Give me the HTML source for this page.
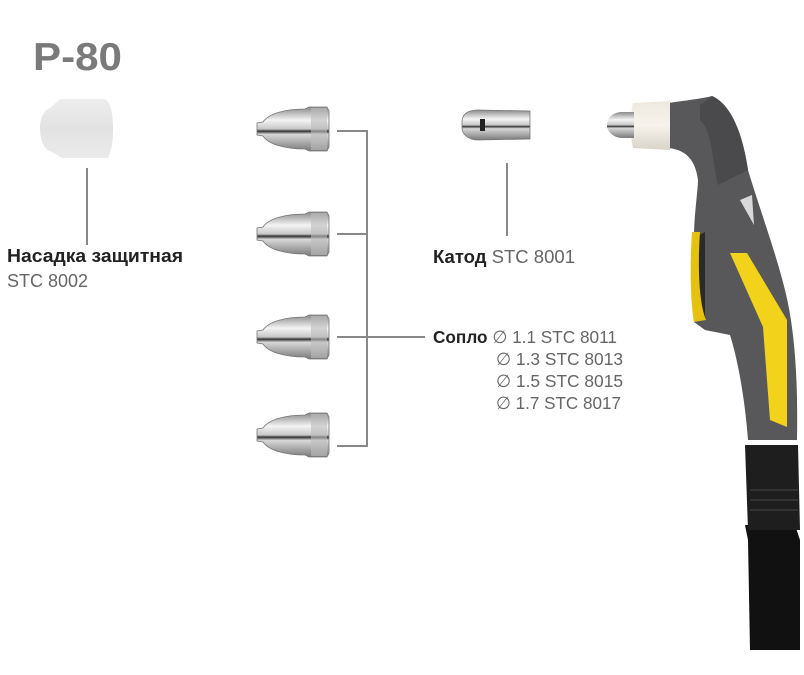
<!DOCTYPE html>
<html><head><meta charset="utf-8"><style>
html,body{margin:0;padding:0;background:#fff;}
svg{display:block}
text{font-family:"Liberation Sans","DejaVu Sans",sans-serif;}
</style></head><body>
<svg width="804" height="675" viewBox="0 0 804 675" xmlns="http://www.w3.org/2000/svg">
<defs>
<linearGradient id="met" x1="0" y1="0" x2="0" y2="1">
<stop offset="0" stop-color="#8a8a8a"/><stop offset="0.3" stop-color="#f4f4f4"/><stop offset="0.5" stop-color="#c8c8c8"/><stop offset="0.55" stop-color="#333"/><stop offset="0.62" stop-color="#d8d8d8"/><stop offset="1" stop-color="#7a7a7a"/>
</linearGradient>
<linearGradient id="cup" x1="0" y1="0" x2="0" y2="1">
<stop offset="0" stop-color="#eeeeee"/><stop offset="0.5" stop-color="#e2e2e2"/><stop offset="1" stop-color="#ebebeb"/>
</linearGradient>
<linearGradient id="wc" x1="0" y1="0" x2="0" y2="1">
<stop offset="0" stop-color="#eee9df"/><stop offset="0.5" stop-color="#f6f3ec"/><stop offset="1" stop-color="#d9d3c8"/>
</linearGradient>
<g id="noz">
<path d="M0,-6 L6,-7 C12,-16 30,-20 48,-20 L52,-22 L70,-22 L72,-18 L72,18 L70,22 L52,22 L48,20 C30,20 12,16 6,7 L0,6 Z" fill="url(#met)" stroke="#777" stroke-width="0.8"/>
<rect x="54" y="-21" width="16" height="42" fill="#bcbcbc" opacity="0.6"/>
</g>
</defs>

<text x="33" y="70" font-size="39" font-weight="bold" fill="#7a7a7a" textLength="89" lengthAdjust="spacingAndGlyphs">P-80</text>

<!-- shield cup -->
<path d="M50,108 C44,110 40,118 40,128 C40,140 44,150 52,152 L62,158 L108,158 C112,150 113,140 113,128 C113,112 110,100 104,99 L60,99 Z" fill="url(#cup)"/>
<line x1="87" y1="168" x2="87" y2="245" stroke="#888" stroke-width="2"/>
<text x="7" y="262" font-size="18" font-weight="bold" fill="#222" textLength="176" lengthAdjust="spacingAndGlyphs">Насадка защитная</text>
<text x="7" y="287" font-size="18" fill="#666">STC 8002</text>

<!-- nozzles -->
<use href="#noz" x="257" y="129"/>
<use href="#noz" x="257" y="234"/>
<use href="#noz" x="257" y="337"/>
<use href="#noz" x="257" y="435"/>
<g stroke="#888" stroke-width="2" fill="none">
<polyline points="337,131 367,131 367,446 337,446"/>
<line x1="337" y1="234" x2="367" y2="234"/>
<line x1="337" y1="337" x2="425" y2="337"/>
</g>

<!-- cathode -->
<path d="M462,122 C462,114 468,110 478,110 L530,111 L530,139 L478,140 C468,140 462,134 462,128 Z" fill="url(#met)" stroke="#777" stroke-width="0.8"/>
<rect x="480" y="119" width="5" height="12" fill="#222"/>
<line x1="507" y1="163" x2="507" y2="236" stroke="#888" stroke-width="2"/>
<text x="433" y="263" font-size="18" fill="#222" textLength="142" lengthAdjust="spacingAndGlyphs"><tspan font-weight="bold">Катод</tspan><tspan fill="#666"> STC 8001</tspan></text>

<text x="433" y="343" font-size="17.5" fill="#222" textLength="184" lengthAdjust="spacingAndGlyphs"><tspan font-weight="bold">Сопло</tspan><tspan fill="#666"> ∅ 1.1 STC 8011</tspan></text>
<text x="496" y="365" font-size="17.5" fill="#666" textLength="127" lengthAdjust="spacingAndGlyphs">∅ 1.3 STC 8013</text>
<text x="496" y="387" font-size="17.5" fill="#666" textLength="127" lengthAdjust="spacingAndGlyphs">∅ 1.5 STC 8015</text>
<text x="496" y="409" font-size="17.5" fill="#666" textLength="125" lengthAdjust="spacingAndGlyphs">∅ 1.7 STC 8017</text>

<!-- torch -->
<path d="M745,525 L795,525 L800,540 L800,650 L750,650 L748,540 Z" fill="#111"/>
<path d="M745,445 L798,445 L800,530 L748,530 Z" fill="#1e1e1e"/>
<g stroke="#333" stroke-width="2"><line x1="750" y1="490" x2="798" y2="490"/><line x1="750" y1="500" x2="798" y2="500"/><line x1="750" y1="510" x2="798" y2="510"/></g>
<path d="M668,103 C690,100 705,98 712,96 C730,104 742,130 748,170 C760,210 775,250 785,290 C795,330 798,380 797,440 L748,440 C745,400 738,360 730,335 L705,330 L694,322 L694,238 C694,215 698,190 698,180 C696,165 690,150 668,148 Z" fill="#58585a"/>
<path d="M700,105 C708,100 712,96 712,96 C730,104 742,130 748,170 L718,185 C712,160 712,130 700,120 Z" fill="#4a4a4c"/>
<path d="M694,238 L705,232 L705,320 L694,322 Z" fill="#2a2a2a"/>
<path d="M692,232 L700,232 C698,260 698,300 706,320 L694,322 C690,300 690,260 692,232 Z" fill="#e5c20f"/>
<path d="M730,253 L747,253 L787,320 L787,427 L770,420 L763,327 Z" fill="#f2d21a"/>
<path d="M740,200 L752,195 L754,225 Z" fill="#d8d8d8"/>
<path d="M633,103 L670,101 L670,150 L633,148 C630,135 630,115 633,103 Z" fill="url(#wc)"/>
<path d="M607,123 C608,117 614,112 622,112 L634,112 L634,138 L622,138 C614,138 608,132 607,127 Z" fill="url(#met)"/>
</svg>
</body></html>
